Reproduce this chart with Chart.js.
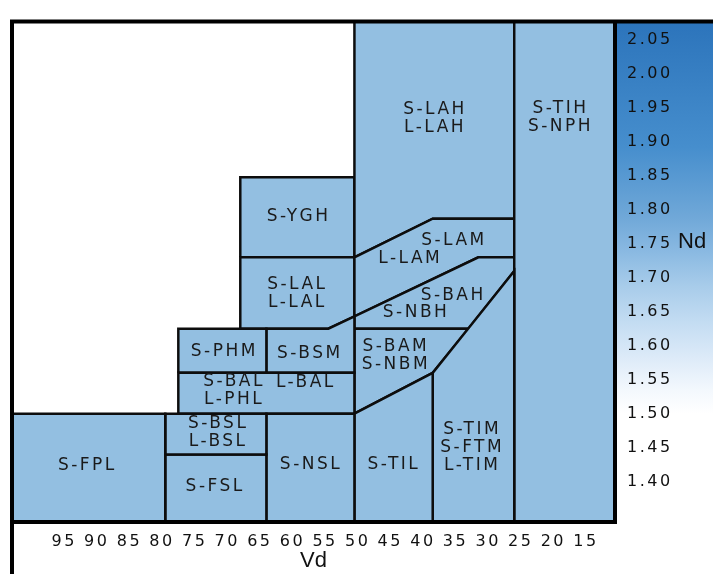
<!DOCTYPE html>
<html>
<head>
<meta charset="utf-8">
<script src="https://cdn.jsdelivr.net/npm/chart.js@4.4.0/dist/chart.umd.min.js"></script>
<style>
  html, body { margin: 0; padding: 0; background: #fff; }
  #wrap { width: 713px; height: 574px; }
</style>
</head>
<body>
<div id="wrap"><canvas id="glassMap" width="713" height="574"></canvas></div>
<script>
// Eixos
const vdTicks = [95, 90, 85, 80, 75, 70, 65, 60, 55, 50, 45, 40, 35, 30, 25, 20, 15];
const ndTicks = [1.40, 1.45, 1.50, 1.55, 1.60, 1.65, 1.70, 1.75, 1.80, 1.85, 1.90, 1.95, 2.00, 2.05];
const vdMin = 10.55, vdMax = 103;
const ndMin = 1.3405, ndMax = 2.077;

// Regiões do mapa de vidros (vértices Vd / Nd)
const glassNames = ['S-FPL', 'S-BSL', 'S-FSL', 'S-NSL', 'S-TIL', 'S-TIM', 'S-TIH',
                    'S-BAL', 'S-PHM', 'S-BSM', 'S-BAM', 'S-BAH', 'S-LAM', 'S-LAH', 'S-LAL', 'S-YGH'];
const regionVd = [
    [103, 103, 79.5, 79.5],
    [79.5, 79.5, 64, 64],
    [79.5, 79.5, 64, 64],
    [64, 64, 50.5, 50.5],
    [50.5, 50.5, 38.5, 38.5],
    [38.5, 38.5, 26, 26],
    [26, 26, 10.55, 10.55],
    [77.5, 77.5, 50.5, 50.5],
    [77.5, 77.5, 64, 64],
    [64, 64, 54.5, 50.5, 50.5],
    [50.5, 50.5, 33, 38.5],
    [50.5, 50.5, 31.5, 26, 26, 33],
    [50.5, 50.5, 38.5, 26, 26, 31.5],
    [50.5, 50.5, 26, 26, 38.5],
    [68, 68, 50.5, 50.5, 54.5],
    [68, 68, 50.5, 50.5]
];
const regionNd = [
    [1.3405, 1.50, 1.50, 1.3405],
    [1.44, 1.50, 1.50, 1.44],
    [1.3405, 1.44, 1.44, 1.3405],
    [1.3405, 1.50, 1.50, 1.3405],
    [1.3405, 1.50, 1.56, 1.3405],
    [1.3405, 1.56, 1.71, 1.3405],
    [1.3405, 2.077, 2.077, 1.3405],
    [1.50, 1.56, 1.56, 1.50],
    [1.56, 1.625, 1.625, 1.56],
    [1.56, 1.625, 1.625, 1.643, 1.56],
    [1.50, 1.625, 1.625, 1.56],
    [1.625, 1.643, 1.73, 1.73, 1.71, 1.625],
    [1.643, 1.73, 1.787, 1.787, 1.73, 1.73],
    [1.73, 2.077, 2.077, 1.787, 1.787],
    [1.625, 1.73, 1.73, 1.643, 1.625],
    [1.73, 1.848, 1.848, 1.73]
];

// Rótulos das regiões
const tagText = ['S-FPL', 'S-BSL\nL-BSL', 'S-FSL', 'S-NSL', 'S-TIL', 'S-TIM\nS-FTM\nL-TIM',
                 'S-TIH\nS-NPH', 'S-BAL\nL-PHL', 'L-BAL', 'S-PHM', 'S-BSM', 'S-BAM\nS-NBM',
                 'S-BAH', 'S-NBH', 'S-LAM', 'L-LAM', 'S-LAH\nL-LAH', 'S-LAL\nL-LAL', 'S-YGH'];
const tagVd = [91.6, 71.55, 72.0, 57.3, 44.6, 32.6, 19.06, 69.1, 58.1, 70.6, 57.5, 44.3,
               35.5, 41.2, 35.4, 42.1, 38.3, 59.4, 59.2];
const tagNd = [1.4232, 1.4717, 1.392, 1.4254, 1.4254, 1.450, 1.936, 1.5333, 1.545, 1.5906, 1.5884, 1.5855,
               1.6732, 1.6486, 1.7543, 1.7275, 1.934, 1.6768, 1.7906];

const regionFill = '#93bfe1';
const lineColor = '#0d0d0d';
const spacing = '2.5px';

// Painel azul em degradê atrás dos valores de Nd
const gradientPanel = {
    id: 'gradientPanel',
    beforeDraw(chart) {
        const { ctx, chartArea } = chart;
        const yEnd = chart.scales.y.getPixelForValue(1.50);
        const g = ctx.createLinearGradient(0, chartArea.top, 0, yEnd);
        g.addColorStop(0, '#2c74bb');
        g.addColorStop(0.32, '#468ecd');
        g.addColorStop(0.50, '#70a8d8');
        g.addColorStop(0.59, '#8bbae2');
        g.addColorStop(0.675, '#a8ccea');
        g.addColorStop(0.766, '#c3dcf2');
        g.addColorStop(0.855, '#dceaf8');
        g.addColorStop(0.94, '#f3f8fd');
        g.addColorStop(1, '#ffffff');
        ctx.save();
        ctx.fillStyle = g;
        ctx.fillRect(chartArea.right, chartArea.top, chart.width - chartArea.right, yEnd - chartArea.top);
        ctx.restore();
        // espaçamento entre letras usado pelos rótulos dos eixos
        ctx.letterSpacing = spacing;
    }
};

// Nomes dos vidros dentro das regiões
const glassTags = {
    id: 'glassTags',
    afterDatasetsDraw(chart) {
        const { ctx } = chart;
        const x = chart.scales.x, y = chart.scales.y;
        ctx.save();
        ctx.font = '17px "DejaVu Sans"';
        ctx.letterSpacing = spacing;
        ctx.fillStyle = '#1a1a1a';
        ctx.textAlign = 'center';
        ctx.textBaseline = 'middle';
        tagText.forEach((txt, i) => {
            const lines = txt.split('\n');
            const px = x.getPixelForValue(tagVd[i]);
            const py = y.getPixelForValue(tagNd[i]);
            lines.forEach((ln, k) => {
                ctx.fillText(ln, px + 1, py + (k - (lines.length - 1) / 2) * 18);
            });
        });
        ctx.restore();
    }
};

// Moldura preta e nomes dos eixos
const frameAndTitles = {
    id: 'frameAndTitles',
    afterDraw(chart) {
        const { ctx, chartArea: a } = chart;
        ctx.save();
        ctx.strokeStyle = '#000';
        ctx.lineWidth = 4;
        ctx.beginPath();
        ctx.moveTo(a.left - 2, a.top); ctx.lineTo(chart.width, a.top);
        ctx.moveTo(a.left, a.top - 2); ctx.lineTo(a.left, chart.height);
        ctx.moveTo(a.right, a.top); ctx.lineTo(a.right, a.bottom + 2);
        ctx.moveTo(a.left, a.bottom); ctx.lineTo(a.right + 2, a.bottom);
        ctx.stroke();

        ctx.letterSpacing = '0px';
        ctx.fillStyle = '#111';
        ctx.font = '22px "Liberation Sans"';
        ctx.textBaseline = 'middle';
        ctx.textAlign = 'left';
        ctx.fillText('Nd', a.right + 63, chart.scales.y.getPixelForValue(1.75) - 2);
        ctx.textAlign = 'center';
        ctx.fillText('Vd', (a.left + a.right) / 2, chart.height - 13);
        ctx.restore();
    }
};

function buildDatasets() {
    return glassNames.map((name, i) => {
        const pts = regionVd[i].map((v, j) => ({ x: v, y: regionNd[i][j] }));
        pts.push(pts[0]);
        return {
            label: name,
            data: pts,
            showLine: true,
            fill: 'shape',
            backgroundColor: regionFill,
            borderColor: lineColor,
            borderWidth: 2.5,
            pointRadius: 0,
            tension: 0
        };
    });
}

const tickFont = { family: 'DejaVu Sans', size: 16 };

new Chart(document.getElementById('glassMap'), {
    type: 'scatter',
    data: { datasets: buildDatasets() },
    options: {
        responsive: false,
        animation: false,
        layout: { padding: { left: 12, top: 14, right: 0, bottom: 0 } },
        plugins: {
            legend: { display: false },
            tooltip: { enabled: false }
        },
        scales: {
            x: {
                type: 'linear',
                reverse: true,
                min: vdMin,
                max: vdMax,
                afterBuildTicks: s => { s.ticks = vdTicks.map(v => ({ value: v })); },
                afterFit: s => { s.height = 52; },
                grid: { display: false, drawTicks: false },
                border: { display: false },
                ticks: {
                    padding: 10,
                    autoSkip: false,
                    maxRotation: 0,
                    color: '#111',
                    font: tickFont,
                    callback: v => String(v)
                }
            },
            y: {
                type: 'linear',
                position: 'right',
                min: ndMin,
                max: ndMax,
                afterBuildTicks: s => { s.ticks = ndTicks.map(v => ({ value: v })); },
                afterFit: s => { s.width = 98; },
                grid: { display: false, drawTicks: false },
                border: { display: false },
                ticks: {
                    padding: 12,
                    autoSkip: false,
                    color: '#111',
                    font: tickFont,
                    callback: v => v.toFixed(2)
                }
            }
        }
    },
    plugins: [gradientPanel, glassTags, frameAndTitles]
});
</script>
</body>
</html>
